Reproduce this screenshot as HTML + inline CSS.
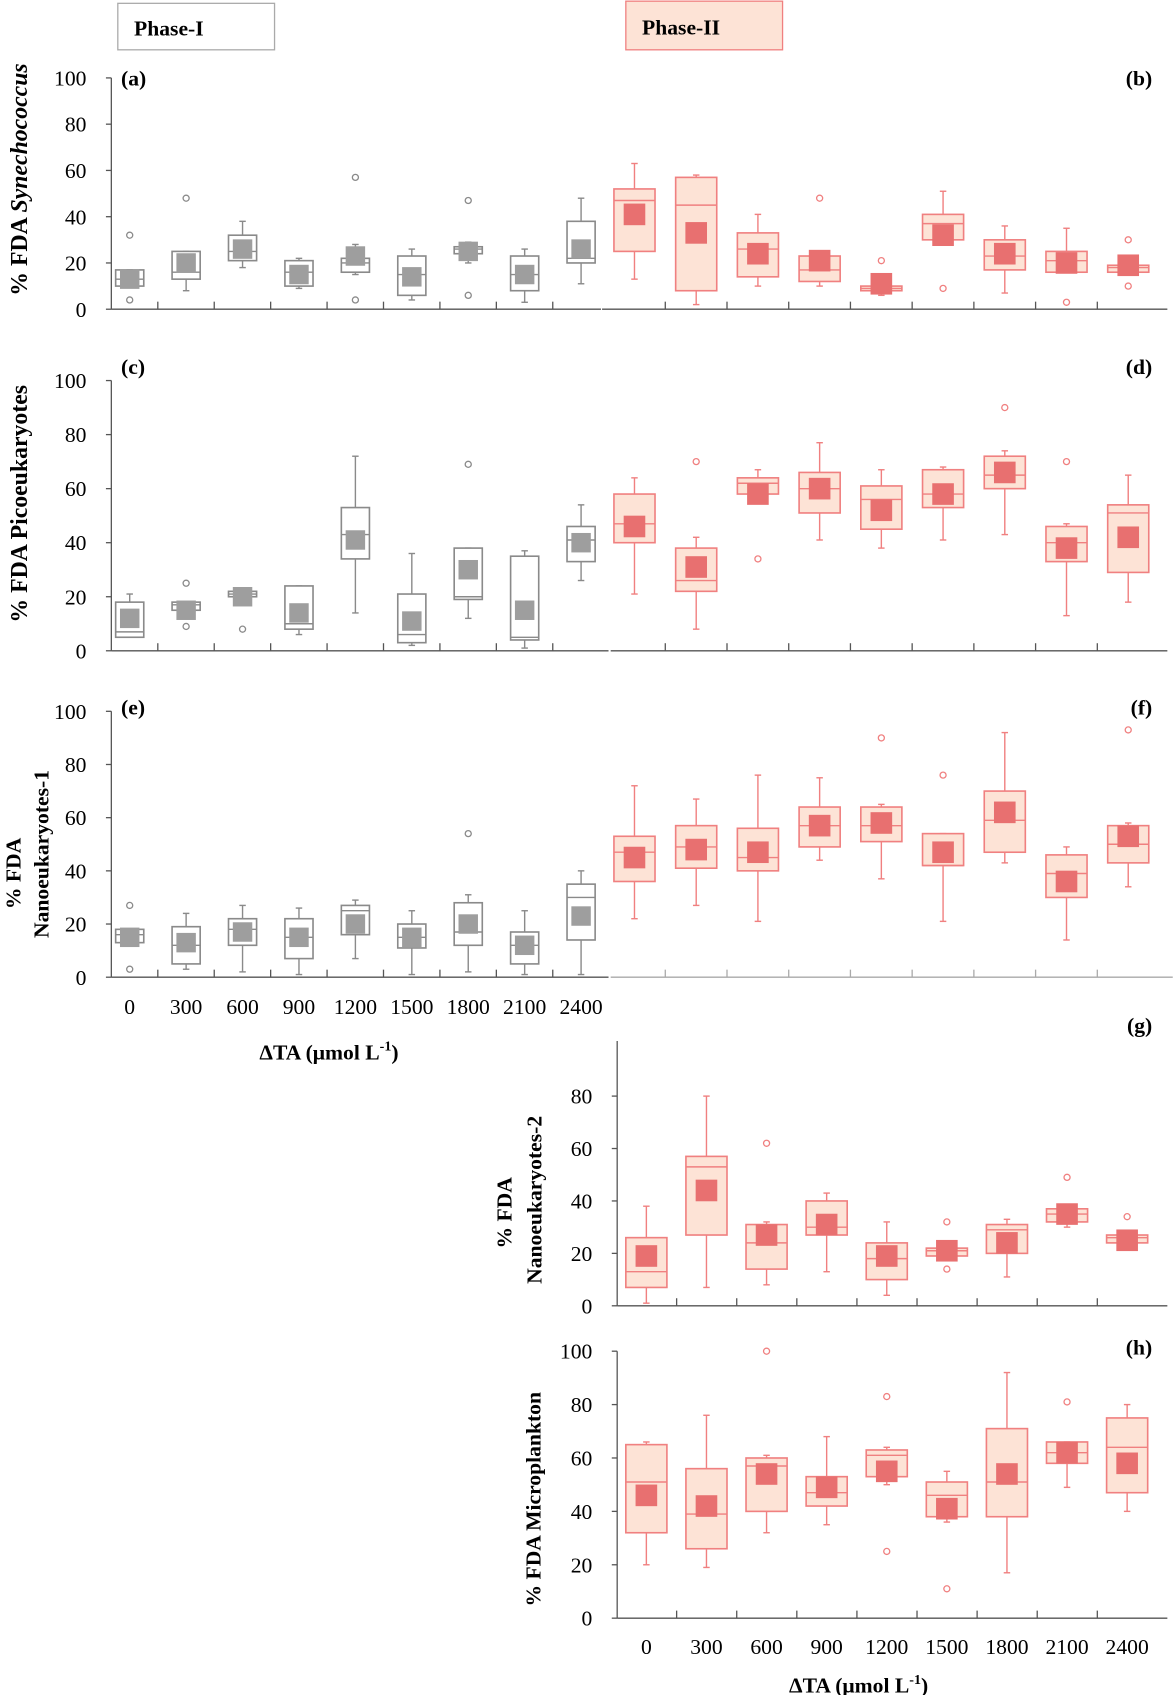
<!DOCTYPE html>
<html><head><meta charset="utf-8"><style>
html,body{margin:0;padding:0;background:#fff}
svg{display:block}
text{font-family:"Liberation Serif",serif;fill:#000}
</style></head><body>
<svg id="fig" width="1176" height="1695" viewBox="0 0 1088 1568" xmlns="http://www.w3.org/2000/svg">
<rect x="109" y="3" width="145" height="43" fill="#fff" stroke="#aaa" stroke-width="1.2"/>
<text x="124" y="33" font-size="20" font-weight="bold">Phase-I</text>
<rect x="579" y="1" width="145" height="45" fill="#fde3d6" stroke="#f08080" stroke-width="1.2"/>
<text x="594" y="32" font-size="20" font-weight="bold">Phase-II</text>
<g id="plots"></g>
</svg>
<script>
const categories=["0","300","600","900","1200","1500","1800","2100","2400"];
// panel a
const aLow=[10,8,18,9,15,4,20,3,11], aQ1=[10,13,21,10,16,6,24,8,20], aMed=[13,16,25,16,20,15,26,15,22], aQ3=[17,25,32,21,22,23,27,23,38], aHigh=[17,25,38,22,28,26,29,26,48], aMean=[13,20,26,15,23,14,25,15,26];
const aOut=[[32,4],[48],[],[],[57,4],[],[47,6],[],[]];
// panel b
const bLow=[13,2,10,10,6,30,7,16,16], bQ1=[25,8,14,12,8,30,17,16,16], bMed=[47,45,26,17,9,37,23,21,18], bQ3=[52,57,33,23,10,41,30,25,19], bHigh=[63,58,41,23,10,51,36,35,19], bMean=[41,33,24,21,11,32,24,20,19];
const bOut=[[],[],[],[48],[21],[9],[],[3],[30,10]];
// panel c
const cLow=[5,12,20,6,14,2,12,1,26], cQ1=[5,15,20,8,34,3,19,4,33], cMed=[7,17,21,10,43,6,20,5,41], cQ3=[18,18,22,24,53,21,38,35,46], cHigh=[21,18,22,24,72,36,38,37,54], cMean=[12,15,20,14,41,11,30,15,40];
const cOut=[[],[25,9],[8],[],[],[],[69],[],[]];
// panel d
const dLow=[21,8,58,41,38,41,43,13,18], dQ1=[40,22,58,51,45,53,60,33,29], dMed=[47,26,62,60,56,58,65,40,51], dQ3=[58,38,64,66,61,67,72,46,54], dHigh=[64,42,67,77,67,68,74,47,65], dMean=[46,31,58,60,52,58,66,38,42];
const dOut=[[],[70],[34],[],[],[],[90],[70],[]];
// panel e
const eLow=[13,3,2,1,7,1,2,1,1], eQ1=[13,5,12,7,16,11,12,5,14], eMed=[16,12,18,15,25,15,17,12,30], eQ3=[18,19,22,22,27,20,28,17,35], eHigh=[18,24,27,26,29,25,31,25,40], eMean=[15,13,17,15,20,15,20,12,23];
const eOut=[[27,3],[],[],[],[],[],[54],[],[]];
// panel f
const fLow=[22,27,21,44,37,21,43,14,34], fQ1=[36,41,40,49,51,42,47,30,43], fMed=[47,49,45,57,57,42,59,39,50], fQ3=[53,57,56,64,64,54,70,46,57], fHigh=[72,67,76,75,65,54,92,49,58], fMean=[45,48,47,57,58,47,62,36,53];
const fOut=[[],[],[],[],[90],[76],[],[],[93]];
// panel g
const gLow=[1,7,8,13,4,19,11,30,24], gQ1=[7,27,14,27,10,19,20,32,24], gMed=[13,53,24,30,18,21,29,35,26], gQ3=[26,57,31,40,24,22,31,37,27], gHigh=[38,80,32,43,32,22,33,37,27], gMean=[19,44,27,31,19,21,24,35,25];
const gOut=[[],[],[62],[],[],[32,14],[],[49],[34]];
// panel h
const hLow=[20,19,32,35,50,36,17,49,40], hQ1=[32,26,40,42,53,38,38,58,47], hMed=[51,39,57,47,61,46,51,62,64], hQ3=[65,56,60,53,63,51,71,66,75], hHigh=[66,76,61,68,64,55,92,66,80], hMean=[46,42,54,49,55,41,54,62,58];
const hOut=[[],[],[100],[],[83,25],[11],[],[81],[]];
const yTicksFull=["0","20","40","60","80","100"];
const yTicksG=["0","20","40","60","80"];

const NS="http://www.w3.org/2000/svg";
const root=document.getElementById('plots');
function mk(tag,attrs,parent){const e=document.createElementNS(NS,tag);for(const k in attrs)e.setAttribute(k,attrs[k]);(parent||root).appendChild(e);return e;}
const P1={stroke:"#8a8a8a",fill:"#fff",mean:"#9e9e9e",bw:26,ms:18};
const P2={stroke:"#f08080",fill:"#fde3d6",mean:"#e87070",bw:38,ms:20};
function drawBoxes(name,xs,y,low,q1,med,q3,high,mean,out,st){
  const g=mk('g',{});
  
  
  for(let i=0;i<low.length;i++){
    const x=xs[i],hw=st.bw/2;
    const wl=mk('line',{x1:x,x2:x,y1:y(low[i]),y2:y(q1[i]),stroke:st.stroke,'stroke-width':1.3},g);
    
    const wh=mk('line',{x1:x,x2:x,y1:y(high[i]),y2:y(q3[i]),stroke:st.stroke,'stroke-width':1.3},g);
    
    [low[i],high[i]].forEach(v=>{const c=mk('line',{x1:x-3,x2:x+3,y1:y(v),y2:y(v),stroke:st.stroke,'stroke-width':1.3},g);});
    const b=mk('rect',{x:x-hw,y:y(q3[i]),width:st.bw,height:Math.max(1,y(q1[i])-y(q3[i])),fill:st.fill,stroke:st.stroke,'stroke-width':1.5},g);
    
    const m=mk('line',{x1:x-hw,x2:x+hw,y1:y(med[i]),y2:y(med[i]),stroke:st.stroke,'stroke-width':1.3},g);
    
    const mm=mk('rect',{x:x-st.ms/2,y:y(mean[i])-st.ms/2,width:st.ms,height:st.ms,fill:st.mean},g);
    
    out[i].forEach(v=>{const o=mk('circle',{cx:x,cy:y(v),r:2.8,fill:'none',stroke:st.stroke,'stroke-width':1.2},g);});
  }
}
function yAxis(name,ax,y,ticks,top,bottom){
  const l=mk('line',{x1:ax,x2:ax,y1:top,y2:bottom,stroke:'#555','stroke-width':1.2});
  
  ticks.forEach(t=>{const v=+t;
    const tk=mk('line',{x1:ax-5,x2:ax,y1:y(v),y2:y(v),stroke:'#555','stroke-width':1.2});
    
    const tx=mk('text',{x:ax-23,y:y(v)+7,'font-size':20,'text-anchor':'end'});tx.textContent=t;
    
  });
}
function xAxis(name,x1,x2,y0,ticks,color){
  const l=mk('line',{x1:x1,x2:x2,y1:y0,y2:y0,stroke:color,'stroke-width':1.3});
  
  ticks.forEach(t=>{const tk=mk('line',{x1:t,x2:t,y1:y0,y2:y0-7,stroke:color,'stroke-width':1.2});});
}
function label(txt,x,y,name,size,anchor){const t=mk('text',{x:x,y:y,'font-size':size||20,'font-weight':'bold','text-anchor':anchor||'start'});t.textContent=txt;return t;}
const xs1=categories.map((c,i)=>120+i*52.2);
const xs2=categories.map((c,i)=>587+i*57.1);
const xs3=categories.map((c,i)=>598+i*55.6);
const tk1=categories.slice(1).map((c,i)=>146+i*52.2);
const tk2=categories.slice(1).map((c,i)=>615.5+i*57.1);
const tk3=categories.slice(1).map((c,i)=>626+i*55.6);
function sc(y0,y100){return v=>y0-(y0-y100)*v/100;}
// row 1
const y1=sc(286,72);
yAxis('panel-a',103,y1,yTicksFull,72,286);
xAxis('phase-1-row1',103,556,286,tk1,'#555');xAxis('phase-2-row1',557,1080,286,tk2,'#555');
drawBoxes('panel-a',xs1,y1,aLow,aQ1,aMed,aQ3,aHigh,aMean,aOut,P1);
drawBoxes('panel-b',xs2,y1,bLow,bQ1,bMed,bQ3,bHigh,bMean,bOut,P2);
label('(a)',112,79,'panel-a-label');label('(b)',1066,79,'panel-b-label',20,'end');
// row 2
const y2=sc(602,352);
yAxis('panel-c',103,y2,yTicksFull,352,602);
xAxis('phase-1-row2',103,563,602,tk1,'#555');xAxis('phase-2-row2',565,1080,602,tk2,'#555');
drawBoxes('panel-c',xs1,y2,cLow,cQ1,cMed,cQ3,cHigh,cMean,cOut,P1);
drawBoxes('panel-d',xs2,y2,dLow,dQ1,dMed,dQ3,dHigh,dMean,dOut,P2);
label('(c)',112,346,'panel-c-label');label('(d)',1066,346,'panel-d-label',20,'end');
// row 3
const y3=sc(904,658);
yAxis('panel-e',103,y3,yTicksFull,658,904);
xAxis('phase-1-row3',103,563,904,tk1,'#555');xAxis('phase-2-row3',565,1085,904,tk2,'#aaa');
drawBoxes('panel-e',xs1,y3,eLow,eQ1,eMed,eQ3,eHigh,eMean,eOut,P1);
drawBoxes('panel-f',xs2,y3,fLow,fQ1,fMed,fQ3,fHigh,fMean,fOut,P2);
label('(e)',112,661,'panel-e-label');label('(f)',1066,661,'panel-f-label',20,'end');
categories.forEach((c,i)=>{const t=mk('text',{x:xs1[i],y:938,'font-size':20,'text-anchor':'middle'});t.textContent=c;});
const xt1=label('ΔTA (μmol L',240,980,'x-axis-title-top');const s1=mk('tspan',{dy:-8,'font-size':13},xt1);s1.textContent='-1';const s1b=mk('tspan',{dy:8},xt1);s1b.textContent=')';
// row g
const yg=sc(1208,965.5);
yAxis('panel-g',571,yg,yTicksG,963,1208);
xAxis('row-g',571,1080,1208,tk3,'#555');
drawBoxes('panel-g',xs3,yg,gLow,gQ1,gMed,gQ3,gHigh,gMean,gOut,P2);
label('(g)',1066,955,'panel-g-label',20,'end');
// row h
const yh=sc(1497,1250);
yAxis('panel-h',571,yh,yTicksFull,1250,1497);
xAxis('row-h',571,1080,1497,tk3,'#555');
drawBoxes('panel-h',xs3,yh,hLow,hQ1,hMed,hQ3,hHigh,hMean,hOut,P2);
label('(h)',1066,1253,'panel-h-label',20,'end');
categories.forEach((c,i)=>{const t=mk('text',{x:xs3[i],y:1530,'font-size':20,'text-anchor':'middle'});t.textContent=c;});
const xt2=label('ΔTA (μmol L',730,1566,'x-axis-title-bottom');const s2=mk('tspan',{dy:-8,'font-size':13},xt2);s2.textContent='-1';const s2b=mk('tspan',{dy:8},xt2);s2b.textContent=')';
// y titles
function ytitle(parts,x,y,name,size){const t=mk('text',{x:0,y:0,'font-size':size||20,'font-weight':'bold','text-anchor':'middle',transform:`translate(${x},${y}) rotate(-90)`});
  parts.forEach(p=>{const s=mk('tspan',p[1]?{'font-style':'italic'}:{},t);s.textContent=p[0];});
  }
ytitle([['% FDA  '],['Synechococcus',1]],25,166,'panel-a-y-title',22);
ytitle([['% FDA  Picoeukaryotes']],25,466,'panel-c-y-title',22);
ytitle([['% FDA']],19,808,'panel-e-y-title-1');
ytitle([['Nanoeukaryotes-1']],45,790,'panel-e-y-title-2');
ytitle([['% FDA']],473,1122,'panel-g-y-title-1');
ytitle([['Nanoeukaryotes-2']],501,1110,'panel-g-y-title-2');
ytitle([['% FDA Microplankton']],500,1387,'panel-h-y-title');
</script>
</body></html>
